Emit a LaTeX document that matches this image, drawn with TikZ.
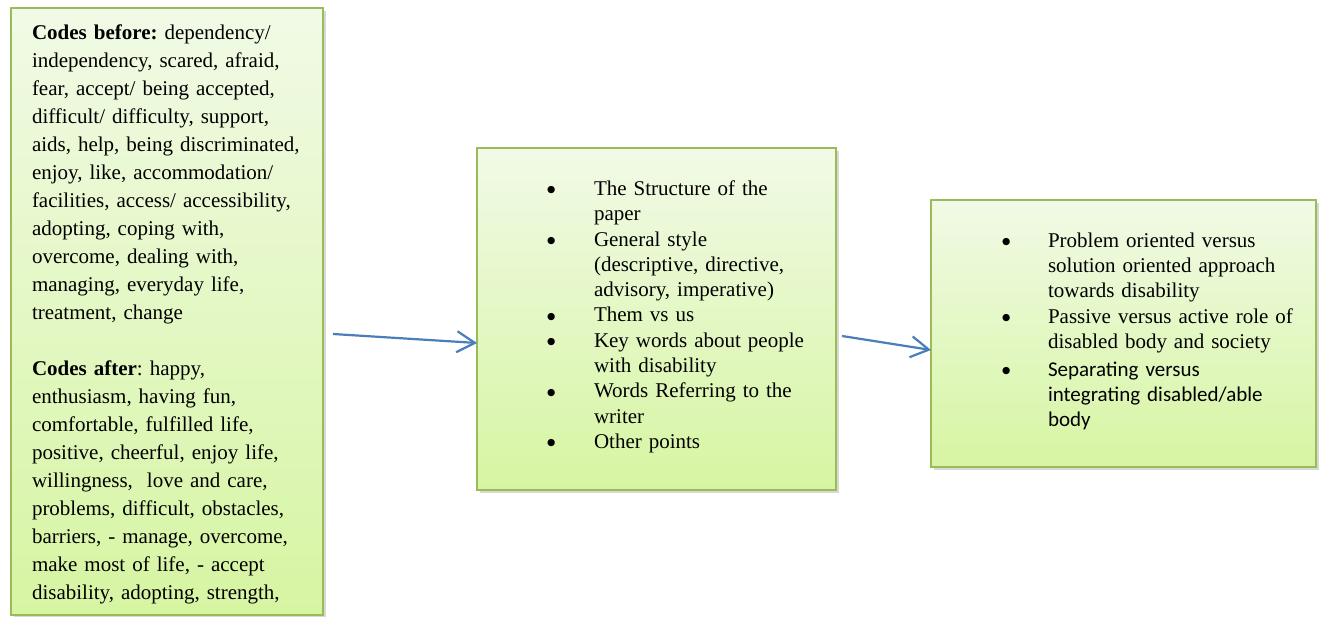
\documentclass[tikz,border=0pt]{standalone}
\usepackage{fontspec}
\setmainfont{Liberation Serif}
\newfontfamily\calib{Carlito}
\newfontfamily\djv{DejaVu Sans}
\usetikzlibrary{arrows.meta,shadows}
\definecolor{boxtop}{RGB}{241,250,230}
\definecolor{boxbot}{RGB}{214,245,162}
\definecolor{boxline}{RGB}{155,187,89}
\definecolor{arrblue}{RGB}{74,126,187}
\newcommand\mybul[1]{\makebox[#1][l]{\raisebox{2.5pt}{\djv\fontsize{9.5}{9.5}\selectfont ●}}}
\newcommand\myind[1]{\hspace*{#1}}
\frenchspacing
\begin{document}
\begin{tikzpicture}[x=1pt,y=-1pt,
  greenbox/.style={draw=boxline, line width=1.5pt, top color=boxtop, bottom color=boxbot,
    inner sep=0pt, outer sep=0pt,
    drop shadow={shadow xshift=3pt, shadow yshift=-3pt, opacity=0.25, fill=black!60}},
  boxtext/.style={anchor=base west, inner sep=0pt, outer sep=0pt, align=left, text width=#1},
  link/.style={draw=arrblue, line width=2.2pt, -{Straight Barb[length=18pt,width=21pt,line width=2.2pt]}}
]
\useasboundingbox (0,0) rectangle (1319,617);
\fill[white] (0,0) rectangle (1319,617);
\node[greenbox, minimum width=312pt, minimum height=607pt] (lbox) at (167,311.5) {};
\node[greenbox, minimum width=359pt, minimum height=342pt] (mbox) at (656.5,319) {};
\node[greenbox, minimum width=385pt, minimum height=267pt] (rbox) at (1123.5,333.5) {};

\node[boxtext=300pt, font=\fontsize{21}{28}\selectfont\frenchspacing] (ltext) at (32,40) {%
\textbf{Codes before:} dependency/\\
independency, scared, afraid,\\
fear, accept/ being accepted,\\
difficult/ difficulty, support,\\
aids, help, being discriminated,\\
enjoy, like, accommodation/\\
facilities, access/ accessibility,\\
adopting, coping with,\\
overcome, dealing with,\\
managing, everyday life,\\
treatment, change\\
\mbox{}\\
\textbf{Codes after}: happy,\\
enthusiasm, having fun,\\
comfortable, fulfilled life,\\
positive, cheerful, enjoy life,\\
willingness,\ \ love and care,\\
problems, difficult, obstacles,\\
barriers, - manage, overcome,\\
make most of life, - accept\\
disability, adopting, strength,};

\node[boxtext=300pt, font=\fontsize{21}{25.3}\selectfont\frenchspacing] (mtext) at (547,195.5) {%
\mybul{47pt}The Structure of the\\
\myind{47pt}paper\\
\mybul{47pt}General style\\
\myind{47pt}(descriptive, directive,\\
\myind{47pt}advisory, imperative)\\
\mybul{47pt}Them vs us\\
\mybul{47pt}Key words about people\\
\myind{47pt}with disability\\
\mybul{47pt}Words Referring to the\\
\myind{47pt}writer\\
\mybul{47pt}Other points};

\node[boxtext=330pt, font=\fontsize{21}{25.2}\selectfont\frenchspacing] (rtext) at (1002,247.5) {%
\mybul{46pt}Problem oriented versus\\
\myind{46pt}solution oriented approach\\
\myind{46pt}towards disability\\
\mybul{46pt}Passive versus active role of\\
\myind{46pt}disabled body and society\\[3pt]
\mybul{46pt}{\calib Separating versus}\\
\myind{46pt}{\calib integrating disabled/able}\\
\myind{46pt}{\calib body}};

\coordinate (a1s) at (333,334);
\coordinate (a2s) at (842,336);
\draw[link] (a1s) -- ([yshift=-24pt]mbox.west);
\draw[link] (a2s) -- ([yshift=-16.5pt]rbox.west);
\end{tikzpicture}
\end{document}
